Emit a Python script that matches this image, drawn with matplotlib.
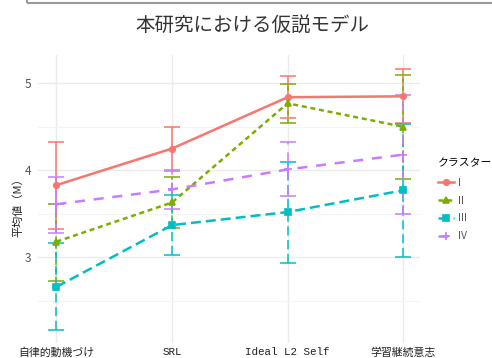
import numpy as np
import matplotlib
matplotlib.use("Agg")
import matplotlib.pyplot as plt
from matplotlib.lines import Line2D
from matplotlib.patches import Rectangle

plt.rcParams['font.family'] = ['Noto Sans CJK JP', 'DejaVu Sans']

# variables on the x axis
variables = ['自律的動機づけ', 'SRL', 'Ideal L2 Self', '学習継続意志']

# cluster labels
clusters = ['I', 'II', 'III', 'IV']

# cluster means and error bar ends
mean_1 = [3.83, 4.25, 4.84, 4.85]
low_1 = [3.33, 3.99, 4.60, 4.54]
high_1 = [4.33, 4.50, 5.08, 5.16]

mean_2 = [3.18, 3.63, 4.77, 4.50]
low_2 = [2.73, 3.34, 4.54, 3.90]
high_2 = [3.61, 3.92, 4.99, 5.09]

mean_3 = [2.66, 3.37, 3.52, 3.77]
low_3 = [2.16, 3.03, 2.94, 3.00]
high_3 = [3.16, 3.72, 4.09, 4.53]

mean_4 = [3.61, 3.78, 4.01, 4.18]
low_4 = [3.28, 3.56, 3.70, 3.50]
high_4 = [3.92, 4.00, 4.32, 4.86]

means = [mean_1, mean_2, mean_3, mean_4]
lows = [low_1, low_2, low_3, low_4]
highs = [high_1, high_2, high_3, high_4]

colors = ['#F8766D', '#7CAE00', '#00BFC4', '#C77CFF']
dashes = [None, (2, 1.5), (4, 2), (4, 3.5)]
markers = ['o', '^', 's', '+']
msizes = [4, 4.5, 4, 6]

W, H = 492, 358
fig = plt.figure(figsize=(W / 100, H / 100), dpi=100)
ax = fig.add_axes([38 / W, 15 / H, (420 - 38) / W, (343 - 55) / H])

x = np.arange(1, len(variables) + 1)

for m, lo, hi, c, d, mk, ms in zip(means, lows, highs, colors, dashes,
                                    markers, msizes):
    m = np.array(m)
    lo = np.array(lo)
    hi = np.array(hi)
    eb = ax.errorbar(x, m, yerr=[m - lo, hi - m], fmt='none', ecolor=c,
                     elinewidth=1.1, capsize=6, capthick=1.1, zorder=2)
    if d is not None:
        for coll in eb[2]:
            coll.set_linestyle((0, (d[0] * 1.5, d[1] * 1.5)))
    ln, = ax.plot(x, m, color=c, lw=1.8, marker=mk, ms=ms, mew=1.2,
                  zorder=3)
    if d is not None:
        ln.set_dashes(d)

ax.set_xlim(0.84, 4.145)
ax.set_ylim(2.015, 5.325)
ax.set_xticks(x)
ax.set_xticklabels(variables, family=['Liberation Mono', 'Noto Sans CJK JP'],
                   fontsize=7.8, color='#222222')
ax.set_yticks([3, 4, 5])
ax.set_yticks([2.5, 3.5, 4.5], minor=True)
ax.set_yticklabels(['3', '4', '5'], fontsize=8.5, color='#555555')
ax.tick_params(axis='both', which='both', length=0)
ax.tick_params(axis='x', pad=3)
ax.tick_params(axis='y', pad=5)
ax.grid(which='major', color='#EBEBEB', lw=1.0)
ax.grid(which='minor', axis='y', color='#F4F4F4', lw=0.8)
ax.set_axisbelow(True)
for s in ax.spines.values():
    s.set_visible(False)

fig.text(18 / W, 1 - 205 / H, '平均値（M）', rotation=90, ha='center',
         va='center', fontsize=8, color='#222222')

fig.text(252 / W, 1 - 25 / H, '本研究における仮説モデル', ha='center',
         va='center', fontsize=14, color='#333333')

# frame edge across the top
fig.add_artist(Rectangle((27 / W, 1 - 2.5 / H), 1.0, 0.1,
                         transform=fig.transFigure, fill=False,
                         ec='#999999', lw=1.5, clip_on=False))

handles = []
for c, d, mk, ms in zip(colors, dashes, markers, msizes):
    h = Line2D([], [], color=c, lw=1.8, marker=mk, ms=ms, mew=1.2)
    if d is not None:
        h.set_dashes(d)
    handles.append(h)
leg = fig.legend(handles, clusters, loc='upper left',
                 bbox_to_anchor=(436 / W, 1 - 156 / H), frameon=False,
                 title='クラスター', fontsize=7.5, title_fontsize=7.8,
                 handlelength=1.5, handletextpad=0.4, labelspacing=0.75,
                 borderpad=0.2, borderaxespad=0)
leg._legend_box.align = 'left'
leg._legend_box.sep = 7
for t in leg.get_texts():
    t.set_color('#555555')

fig.savefig('out.png', dpi=100)
